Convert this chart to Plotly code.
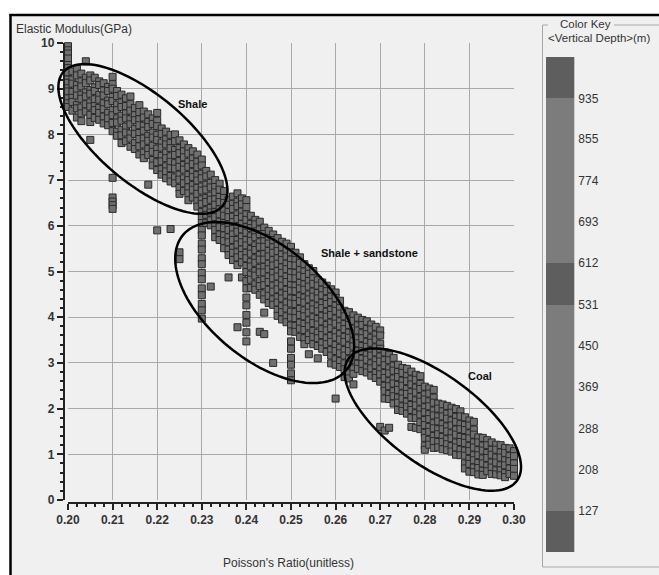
import math
import plotly.graph_objects as go

# ---------------- data ----------------
poisson_cols = [
    0.200, 0.201, 0.202, 0.203, 0.204, 0.205, 0.206, 0.207, 0.208, 0.209,
    0.210, 0.211, 0.212, 0.213, 0.214, 0.215, 0.216, 0.217, 0.218, 0.219,
    0.220, 0.221, 0.222, 0.223, 0.224, 0.225, 0.226, 0.227, 0.228, 0.229,
    0.230, 0.231, 0.232, 0.233, 0.234, 0.235, 0.236, 0.237, 0.238, 0.239,
    0.240, 0.241, 0.242, 0.243, 0.244, 0.245, 0.246, 0.247, 0.248, 0.249,
    0.250, 0.251, 0.252, 0.253, 0.254, 0.255, 0.256, 0.257, 0.258, 0.259,
    0.260, 0.261, 0.262, 0.263, 0.264, 0.265, 0.266, 0.267, 0.268, 0.269,
    0.270, 0.271, 0.272, 0.273, 0.274, 0.275, 0.276, 0.277, 0.278, 0.279,
    0.280, 0.281, 0.282, 0.283, 0.284, 0.285, 0.286, 0.287, 0.288, 0.289,
    0.290, 0.291, 0.292, 0.293, 0.294, 0.295, 0.296, 0.297, 0.298, 0.299,
    0.300, 0.301,
]

modulus_by_col = [
    [9.93, 9.84, 9.77, 9.66, 9.52, 9.45, 9.36, 9.2, 9.13, 9.01, 8.94, 8.79, 8.68, 8.6],
    [9.38, 9.2, 9.11, 8.93, 8.8, 8.71, 8.52],
    [9.43, 9.29, 9.08, 8.99, 8.85, 8.64, 8.57, 8.37],
    [9.33, 9.16, 9.05, 8.87, 8.78, 8.59, 8.46, 8.29],
    [9.6, 9.24, 9.12, 8.92, 8.83, 8.66, 8.5],
    [9.29, 9.18, 8.97, 8.89, 8.7, 8.61, 8.43, 8.27, 7.88],
    [9.24, 9.03, 8.95, 8.77, 8.62, 8.53, 8.36],
    [9.16, 9.08, 8.86, 8.76, 8.58, 8.47, 8.32],
    [9.12, 8.96, 8.85, 8.68, 8.55, 8.39, 8.24],
    [9.04, 8.95, 8.74, 8.66, 8.47, 8.35, 8.2],
    [9.26, 9.1, 9.0, 8.82, 8.73, 8.53, 8.42, 8.25, 8.07, 7.05, 6.62, 6.53, 6.45, 6.37],
    [8.95, 8.84, 8.65, 8.53, 8.35, 8.26, 8.06, 7.97],
    [8.87, 8.7, 8.6, 8.41, 8.3, 8.1, 7.98, 7.81],
    [8.79, 8.62, 8.46, 8.35, 8.17, 8.04, 7.85],
    [8.83, 8.66, 8.52, 8.33, 8.22, 8.02, 7.91, 7.73],
    [8.58, 8.42, 8.31, 8.12, 8.01, 7.81, 7.68],
    [8.64, 8.49, 8.33, 8.2, 8.03, 7.9, 7.74, 7.56],
    [8.5, 8.37, 8.19, 8.08, 7.91, 7.78, 7.6, 7.48],
    [8.44, 8.27, 8.16, 7.97, 7.86, 7.68, 7.55, 6.9],
    [8.35, 8.23, 8.04, 7.93, 7.75, 7.62, 7.44, 7.32],
    [8.47, 8.3, 8.18, 7.99, 7.88, 7.69, 7.57, 7.39, 7.22, 5.9],
    [8.13, 8.01, 7.82, 7.71, 7.53, 7.41, 7.24, 7.12],
    [8.06, 7.89, 7.78, 7.6, 7.48, 7.3, 7.19, 7.04],
    [7.99, 7.81, 7.7, 7.52, 7.4, 7.26, 7.09, 6.97, 5.93],
    [8.0, 7.85, 7.66, 7.55, 7.37, 7.25, 7.06, 6.93],
    [7.87, 7.7, 7.59, 7.42, 7.29, 7.12, 7.01, 6.83, 6.7, 5.42, 5.27],
    [7.78, 7.63, 7.5, 7.33, 7.23, 7.04, 6.93, 6.76],
    [7.7, 7.58, 7.4, 7.29, 7.11, 7.0, 6.84, 6.71, 6.56],
    [7.63, 7.47, 7.35, 7.18, 7.07, 6.89, 6.79, 6.62],
    [7.56, 7.4, 7.28, 7.11, 6.99, 6.83, 6.7, 6.54, 6.42],
    [7.45, 7.32, 7.14, 7.04, 6.86, 6.77, 6.58, 6.48, 6.3, 6.2, 6.06, 5.91, 5.79, 5.61,
     5.48, 5.29, 5.16, 4.97, 4.83, 4.63, 4.48, 4.29, 4.15, 3.97],
    [7.2, 7.08, 6.9, 6.79, 6.61, 6.52, 6.34, 6.24, 6.06],
    [7.12, 6.94, 6.84, 6.66, 6.57, 6.39, 6.29, 6.12, 6.01, 4.67],
    [7.0, 6.85, 6.73, 6.58, 6.46, 6.3, 6.19, 6.03, 5.91, 5.75],
    [6.92, 6.79, 6.63, 6.52, 6.36, 6.25, 6.09, 5.97, 5.81, 5.69],
    [6.76, 6.61, 6.5, 6.34, 6.22, 6.06, 5.95, 5.79, 5.67, 5.51],
    [6.57, 6.46, 6.3, 6.19, 6.03, 5.91, 5.75, 5.64, 5.48, 5.36, 4.87],
    [6.64, 6.48, 6.37, 6.2, 6.08, 5.93, 5.81, 5.69, 5.52, 5.41, 5.25],
    [6.71, 6.53, 6.43, 6.25, 6.15, 5.97, 5.87, 5.69, 5.59, 5.42, 5.31, 5.14, 3.78],
    [6.6, 6.47, 6.31, 6.2, 6.04, 5.92, 5.76, 5.64, 5.48, 5.36, 5.2, 4.87],
    [6.56, 6.41, 6.25, 6.13, 5.97, 5.85, 5.69, 5.57, 5.41, 5.29, 5.12, 4.99, 4.79, 4.63,
     4.43, 4.26, 4.05, 3.88, 3.67, 3.47],
    [6.22, 6.04, 5.95, 5.77, 5.67, 5.49, 5.39, 5.21, 5.11, 4.93, 4.82, 4.64],
    [6.13, 6.03, 5.85, 5.75, 5.57, 5.47, 5.29, 5.19, 5.01, 4.91, 4.72, 4.6],
    [6.09, 5.92, 5.82, 5.64, 5.54, 5.36, 5.26, 5.08, 4.98, 4.79, 4.68, 4.49, 3.68],
    [5.96, 5.82, 5.66, 5.54, 5.38, 5.26, 5.1, 4.98, 4.82, 4.7, 4.52, 4.39, 4.1, 3.63],
    [5.89, 5.73, 5.61, 5.45, 5.33, 5.17, 5.05, 4.89, 4.77, 4.6, 4.47, 4.31],
    [5.81, 5.69, 5.53, 5.41, 5.25, 5.13, 4.97, 4.85, 4.69, 4.56, 4.39, 4.27, 3.0],
    [5.73, 5.57, 5.45, 5.29, 5.17, 5.01, 4.89, 4.73, 4.61, 4.44, 4.32, 4.16, 4.03],
    [5.65, 5.53, 5.37, 5.25, 5.09, 4.97, 4.81, 4.69, 4.52, 4.41, 4.24, 4.11, 3.95],
    [5.61, 5.45, 5.33, 5.17, 5.05, 4.89, 4.77, 4.6, 4.49, 4.32, 4.19, 4.02, 3.89],
    [5.54, 5.42, 5.26, 5.14, 4.98, 4.86, 4.7, 4.58, 4.41, 4.3, 4.12, 3.99, 3.82, 3.69,
     3.47, 3.31, 3.11, 2.96, 2.77, 2.62],
    [5.41, 5.25, 5.13, 4.97, 4.85, 4.69, 4.57, 4.4, 4.29, 4.11, 3.98, 3.81, 3.68],
    [5.31, 5.19, 5.03, 4.91, 4.75, 4.63, 4.46, 4.35, 4.18, 4.05, 3.88, 3.75, 3.57],
    [5.16, 5.0, 4.88, 4.72, 4.6, 4.43, 4.32, 4.15, 4.02, 3.85, 3.72, 3.54, 3.41],
    [5.07, 4.95, 4.79, 4.67, 4.5, 4.39, 4.22, 4.1, 3.93, 3.8, 3.62, 3.5, 3.19],
    [5.01, 4.85, 4.73, 4.56, 4.45, 4.28, 4.17, 4.0, 3.87, 3.7, 3.57, 3.41],
    [4.81, 4.69, 4.53, 4.41, 4.24, 4.13, 3.96, 3.84, 3.66, 3.54, 3.37, 3.1],
    [4.76, 4.6, 4.48, 4.31, 4.2, 4.03, 3.91, 3.74, 3.61, 3.44, 3.31],
    [4.69, 4.57, 4.4, 4.29, 4.12, 4.01, 3.83, 3.71, 3.54, 3.41, 3.24],
    [4.61, 4.45, 4.33, 4.16, 4.05, 3.88, 3.76, 3.59, 3.46, 3.28, 3.16, 2.99],
    [4.54, 4.42, 4.25, 4.14, 3.97, 3.86, 3.68, 3.56, 3.39, 3.26, 3.08, 2.96, 2.22],
    [4.36, 4.2, 4.08, 3.91, 3.8, 3.63, 3.51, 3.33, 3.21, 3.04, 2.91],
    [4.14, 4.02, 3.85, 3.74, 3.57, 3.46, 3.28, 3.16, 2.99, 2.86, 2.69],
    [4.11, 3.94, 3.83, 3.66, 3.55, 3.38, 3.26, 3.08, 2.96, 2.78, 2.66],
    [4.04, 3.92, 3.75, 3.64, 3.47, 3.36, 3.18, 3.06, 2.88, 2.76, 2.53],
    [3.99, 3.82, 3.71, 3.54, 3.43, 3.26, 3.15, 2.98, 2.87],
    [3.94, 3.83, 3.65, 3.54, 3.37, 3.26, 3.09, 2.98, 2.82],
    [3.91, 3.74, 3.63, 3.46, 3.35, 3.18, 3.07, 2.9, 2.79],
    [3.84, 3.73, 3.55, 3.44, 3.27, 3.16, 2.99, 2.88, 2.72],
    [3.79, 3.62, 3.51, 3.34, 3.23, 3.06, 2.95, 2.78, 2.67],
    [3.71, 3.6, 3.42, 3.31, 3.14, 3.03, 2.86, 2.75, 2.59, 1.6],
    [3.23, 3.06, 2.95, 2.78, 2.67, 2.5, 2.39, 2.22, 1.52],
    [3.17, 3.06, 2.88, 2.77, 2.6, 2.49, 2.32, 2.21, 1.58],
    [3.11, 2.94, 2.83, 2.66, 2.55, 2.38, 2.27, 2.11],
    [2.96, 2.8, 2.69, 2.52, 2.41, 2.24, 2.13, 1.97],
    [2.89, 2.78, 2.61, 2.5, 2.33, 2.22, 2.05, 1.95],
    [2.87, 2.71, 2.6, 2.43, 2.32, 2.15, 2.04, 1.89],
    [2.81, 2.64, 2.53, 2.36, 2.25, 2.08, 1.97, 1.8, 1.6],
    [2.74, 2.63, 2.46, 2.35, 2.18, 2.07, 1.9, 1.79, 1.58],
    [2.71, 2.54, 2.43, 2.26, 2.15, 1.98, 1.87, 1.7, 1.55],
    [2.48, 2.31, 2.2, 2.03, 1.92, 1.75, 1.64, 1.47, 1.36, 1.19, 1.1],
    [2.44, 2.33, 2.16, 2.05, 1.88, 1.77, 1.6, 1.49, 1.32, 1.21],
    [2.41, 2.24, 2.13, 1.96, 1.85, 1.68, 1.57, 1.4, 1.29, 1.14],
    [2.11, 2.0, 1.83, 1.72, 1.55, 1.44, 1.27, 1.15],
    [2.09, 1.94, 1.83, 1.66, 1.55, 1.38, 1.27, 1.11],
    [2.06, 1.89, 1.78, 1.61, 1.5, 1.33, 1.22, 1.09],
    [2.02, 1.91, 1.74, 1.63, 1.46, 1.35, 1.18, 1.06],
    [1.99, 1.82, 1.71, 1.54, 1.43, 1.26, 1.15, 0.99],
    [1.94, 1.83, 1.66, 1.55, 1.38, 1.27, 1.1, 0.98],
    [1.81, 1.64, 1.53, 1.36, 1.25, 1.08, 0.97, 0.8, 0.69],
    [1.74, 1.63, 1.46, 1.35, 1.18, 1.07, 0.9, 0.79, 0.62],
    [1.71, 1.54, 1.43, 1.26, 1.15, 0.98, 0.87, 0.71, 0.61],
    [1.37, 1.26, 1.09, 0.98, 0.81, 0.7, 0.56],
    [1.36, 1.19, 1.08, 0.91, 0.8, 0.64, 0.55],
    [1.31, 1.2, 1.03, 0.92, 0.75, 0.63],
    [1.26, 1.1, 0.99, 0.82, 0.71, 0.57],
    [1.21, 1.1, 0.93, 0.82, 0.65, 0.56],
    [1.2, 1.04, 0.93, 0.76, 0.65, 0.54],
    [1.14, 1.03, 0.87, 0.76, 0.59, 0.5],
    [1.13, 0.96, 0.85, 0.69, 0.57],
    [1.07, 0.96, 0.8, 0.68, 0.53],
    [0.45],
]

x_ticks = [0.20, 0.21, 0.22, 0.23, 0.24, 0.25, 0.26, 0.27, 0.28, 0.29, 0.30]
y_ticks = [0, 1, 2, 3, 4, 5, 6, 7, 8, 9, 10]

# colour key (vertical depth classes, m)
key_bases = [46, 127, 531, 612, 935]
key_heights = [81, 404, 81, 323, 81]
key_labels = [127, 208, 288, 369, 450, 531, 612, 693, 774, 855, 935]

# region ellipses: label, centre (x, y) in data units
region_names = ["Shale", "Shale + sandstone", "Coal"]
region_centres = [(0.2168, 7.90), (0.2441, 4.32), (0.2818, 1.76)]
label_pos = [(0.2280, 8.67), (0.2677, 5.41), (0.2924, 2.72)]

# ---------------- layout geometry (pixels) ----------------
W, H = 659, 575
PL, PR, PT, PB = 68, 514, 43, 500
ELL_GEOM = [(104, 44, 40), (106, 57, 39.5), (104, 45, 36)]  # semi-axes px, angle deg


def px_x(px):
    return px / W


def px_y(py):
    return 1 - py / H


def data_to_px(x, y):
    return (PL + (x - 0.2) / 0.1 * (PR - PL), PB - y / 10 * (PB - PT))


xs, ys = [], []
for cx, col in zip(poisson_cols, modulus_by_col):
    for v in col:
        xs.append(cx)
        ys.append(v)

fig = go.Figure()

fig.add_trace(go.Scatter(
    x=xs, y=ys, mode="markers", cliponaxis=False,
    marker=dict(symbol="square", size=7, color="#707070",
                line=dict(color="#2a2a2a", width=1)),
    xaxis="x", yaxis="y", showlegend=False, hoverinfo="skip",
))

key_colors = ["#5e5e5e", "#7c7c7c", "#5e5e5e", "#7c7c7c", "#5e5e5e"]
fig.add_trace(go.Bar(
    x=[0] * len(key_bases), y=key_heights, base=key_bases, width=1,
    marker=dict(color=key_colors, line=dict(width=0)),
    xaxis="x2", yaxis="y2", showlegend=False, hoverinfo="skip",
))

shapes = []
# gray window panel with black frame lines
shapes.append(dict(type="rect", xref="paper", yref="paper", x0=px_x(10.5), x1=px_x(W + 5),
                   y0=px_y(H + 5), y1=px_y(15), fillcolor="#f0f0f0", line=dict(width=0),
                   layer="below"))
shapes.append(dict(type="line", xref="paper", yref="paper", x0=px_x(10.5), x1=px_x(10.5),
                   y0=px_y(14), y1=px_y(H + 5), line=dict(color="black", width=2.5)))
shapes.append(dict(type="line", xref="paper", yref="paper", x0=px_x(9.5), x1=px_x(W + 5),
                   y0=px_y(15), y1=px_y(15), line=dict(color="black", width=2.5)))
# group box for colour key
gb = dict(color="#a8a8a8", width=1)
shapes.append(dict(type="line", xref="paper", yref="paper", x0=px_x(542.5), x1=px_x(542.5),
                   y0=px_y(25), y1=px_y(567), line=gb))
shapes.append(dict(type="line", xref="paper", yref="paper", x0=px_x(542.5), x1=px_x(W + 5),
                   y0=px_y(567), y1=px_y(567), line=gb))
shapes.append(dict(type="line", xref="paper", yref="paper", x0=px_x(542.5), x1=px_x(548),
                   y0=px_y(25), y1=px_y(25), line=gb))
shapes.append(dict(type="line", xref="paper", yref="paper", x0=px_x(614), x1=px_x(W + 5),
                   y0=px_y(25), y1=px_y(25), line=gb))

# ellipses
for (cx, cy), (a, b, ang) in zip(region_centres, ELL_GEOM):
    pcx, pcy = data_to_px(cx, cy)
    th = math.radians(ang)
    pts = []
    for k in range(0, 361, 3):
        t = math.radians(k)
        ex = a * math.cos(t) * math.cos(th) - b * math.sin(t) * math.sin(th)
        ey = a * math.cos(t) * math.sin(th) + b * math.sin(t) * math.cos(th)
        pts.append((px_x(pcx + ex), px_y(pcy + ey)))
    path = "M " + " L ".join(f"{u:.5f},{v:.5f}" for u, v in pts) + " Z"
    shapes.append(dict(type="path", xref="paper", yref="paper", path=path,
                       line=dict(color="black", width=2.5), layer="above"))

annotations = []
for name, (lx, ly) in zip(region_names, label_pos):
    annotations.append(dict(x=lx, y=ly, xref="x", yref="y", text=name, showarrow=False,
                            font=dict(family="Liberation Sans", size=11, color="#111",
                                      weight="bold")))
annotations.append(dict(x=px_x(14), y=px_y(29), xref="paper", yref="paper",
                        text="Elastic Modulus(GPa)", showarrow=False, xanchor="left",
                        yanchor="middle",
                        font=dict(family="Liberation Sans", size=12, color="#333")))
annotations.append(dict(x=px_x(288), y=px_y(563), xref="paper", yref="paper",
                        text="Poisson's Ratio(unitless)", showarrow=False, xanchor="center",
                        yanchor="middle",
                        font=dict(family="Liberation Sans", size=12, color="#333")))
annotations.append(dict(x=px_x(585), y=px_y(24), xref="paper", yref="paper",
                        text="Color Key", showarrow=False, xanchor="center", yanchor="middle",
                        font=dict(family="Liberation Sans", size=11.5, color="#333")))
annotations.append(dict(x=px_x(546), y=px_y(38), xref="paper", yref="paper",
                        text="&lt;Vertical Depth&gt;(m)", showarrow=False, xanchor="left",
                        yanchor="middle",
                        font=dict(family="Liberation Sans", size=11.5, color="#333")))

tickfont = dict(family="Liberation Sans", size=12, color="#333", weight="bold")

fig.update_layout(
    width=W, height=H, margin=dict(l=0, r=0, t=0, b=0, autoexpand=False),
    paper_bgcolor="white", plot_bgcolor="white",
    shapes=shapes, annotations=annotations, bargap=0,
    xaxis=dict(domain=[px_x(PL), px_x(PR)], range=[0.2, 0.3], anchor="free",
               position=px_y(503), tickvals=x_ticks, tickformat=".2f", automargin=False,
               showgrid=True, gridcolor="#a9a9a9", gridwidth=1,
               showline=True, linecolor="#222", linewidth=1.5,
               ticks="outside", ticklen=6, tickcolor="#222", tickwidth=1.5,
               minor=dict(dtick=0.002, ticks="outside", ticklen=3, tickcolor="#222",
                          showgrid=False),
               tickfont=tickfont, zeroline=False, fixedrange=True),
    yaxis=dict(domain=[px_y(PB), px_y(PT)], range=[0, 10], anchor="free",
               position=px_x(63.5), tickvals=y_ticks, automargin=False,
               showgrid=True, gridcolor="#a9a9a9", gridwidth=1,
               showline=True, linecolor="#222", linewidth=1.5,
               ticks="outside", ticklen=6, tickcolor="#222", tickwidth=1.5,
               minor=dict(dtick=0.2, ticks="outside", ticklen=3, tickcolor="#222",
                          showgrid=False),
               tickfont=tickfont, zeroline=False, fixedrange=True),
    xaxis2=dict(domain=[px_x(545.7), px_x(574.3)], range=[-0.5, 0.5], anchor="y2",
                automargin=False,
                showgrid=False, showticklabels=False, zeroline=False, showline=False,
                fixedrange=True),
    yaxis2=dict(domain=[px_y(552), px_y(57)], range=[46, 1016], anchor="x2", side="right",
                tickvals=key_labels, ticks="", showgrid=False, zeroline=False,
                showline=False, ticklabelstandoff=3, automargin=False,
                tickfont=dict(family="Liberation Sans", size=12, color="#333"),
                fixedrange=True),
)

fig.write_html("out.html", post_script="document.body.style.margin='0';")
